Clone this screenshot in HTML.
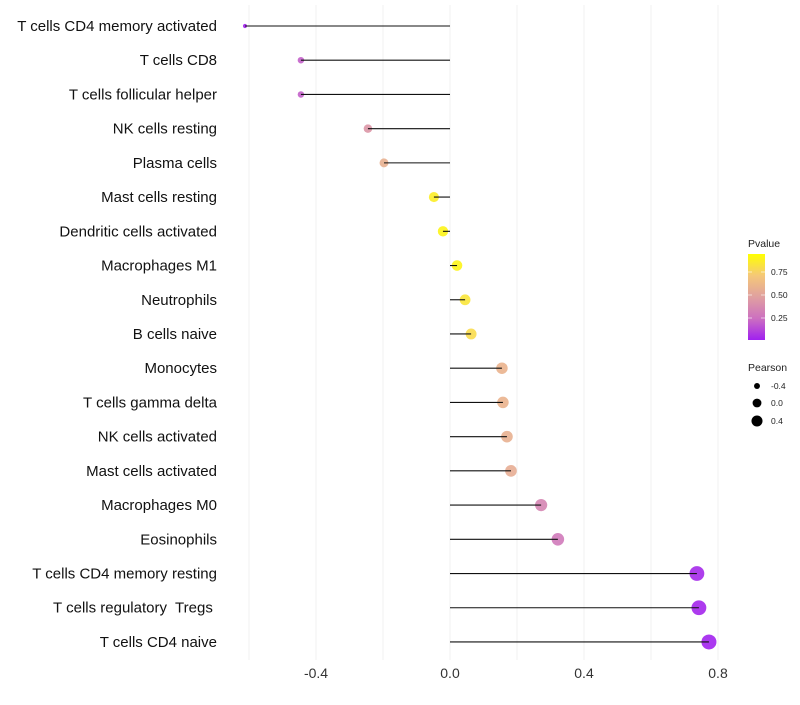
<!DOCTYPE html>
<html><head><meta charset="utf-8"><style>
body{margin:0;background:#fff;font-family:"Liberation Sans",sans-serif}
svg text{font-family:"Liberation Sans",sans-serif;white-space:pre}
</style></head><body>
<svg id="chart" width="800" height="700"></svg>
<script>
const categories=["T cells CD4 memory activated","T cells CD8","T cells follicular helper","NK cells resting","Plasma cells","Mast cells resting","Dendritic cells activated","Macrophages M1","Neutrophils","B cells naive","Monocytes","T cells gamma delta","NK cells activated","Mast cells activated","Macrophages M0","Eosinophils","T cells CD4 memory resting","T cells regulatory  Tregs ","T cells CD4 naive"];
const pearson=[-0.612,-0.445,-0.445,-0.245,-0.197,-0.048,-0.021,0.021,0.045,0.063,0.155,0.158,0.170,0.182,0.272,0.322,0.737,0.743,0.773];
const pvalue=[0.01,0.2,0.2,0.45,0.6,0.92,0.95,0.95,0.88,0.84,0.62,0.62,0.6,0.58,0.36,0.3,0.03,0.02,0.01];
const xTicks=[-0.4,0.0,0.4,0.8];
const xGrid=[-0.6,-0.4,-0.2,0,0.2,0.4,0.6,0.8];
const NS="http://www.w3.org/2000/svg";
const svg=document.getElementById('chart');
const xs=v=>450+v*335;
const ys=i=>26+i*34.22;
const rs=v=>Math.sqrt(Math.max(1,27.25+37.5*v));
function colorFor(p){
  const stops=[[0,[160,32,240]],[0.25,[204,112,192]],[0.5,[224,160,160]],[0.75,[245,200,120]],[1,[255,255,0]]];
  for(let i=1;i<stops.length;i++){if(p<=stops[i][0]){const a=stops[i-1],b=stops[i];const t=(p-a[0])/(b[0]-a[0]);return `rgb(${a[1].map((c,k)=>Math.round(c+(b[1][k]-c)*t)).join(',')})`;}}
  return 'rgb(255,255,0)';
}
function el(tag,attrs,parent){const e=document.createElementNS(NS,tag);for(const k in attrs)e.setAttribute(k,attrs[k]);(parent||svg).appendChild(e);return e;}
xGrid.forEach(v=>{const g=el('line',{x1:xs(v),x2:xs(v),y1:5,y2:660,stroke:'#f0f0f0','stroke-width':1});

});
xTicks.forEach(v=>{const t=el('text',{x:xs(v),y:678,'text-anchor':'middle','font-size':14,fill:'#333'});t.textContent=v.toFixed(1);

});
categories.forEach((c,i)=>{
  const y=ys(i);
  const t=el('text',{x:217,y:y+5,'text-anchor':'end','font-size':15,fill:'#111'});t.textContent=c;
  
  
  const p=el('circle',{cx:xs(pearson[i]),cy:y,r:rs(pearson[i]),fill:colorFor(pvalue[i]),opacity:0.9});
  
  
  const l=el('line',{x1:xs(0),x2:xs(pearson[i]),y1:y,y2:y,stroke:'#111','stroke-width':1.1});
  
  
});
const defs=el('defs',{});
const lg=el('linearGradient',{id:'pg',x1:0,y1:1,x2:0,y2:0},defs);
[[0,'#a020f0'],[0.25,'#cc70c0'],[0.5,'#e0a0a0'],[0.75,'#f5c878'],[1,'#ffff00']].forEach(s=>el('stop',{offset:s[0],'stop-color':s[1]},lg));
const lt=el('text',{x:748,y:247,'font-size':10.5,fill:'#222'});lt.textContent='Pvalue';


const bar=el('rect',{x:748,y:254,width:17,height:86,fill:'url(#pg)'});


[[0.75,272],[0.5,295],[0.25,318]].forEach(d=>{
  el('line',{x1:748,x2:752,y1:d[1],y2:d[1],stroke:'#fff','stroke-width':0.6});
  el('line',{x1:761,x2:765,y1:d[1],y2:d[1],stroke:'#fff','stroke-width':0.6});
  const t=el('text',{x:771,y:d[1]+3,'font-size':8.5,fill:'#222'});t.textContent=d[0].toFixed(2);
  
  
});
const st=el('text',{x:748,y:371,'font-size':10.5,fill:'#222'});st.textContent='Pearson';


[[-0.4,386],[0.0,403],[0.4,421]].forEach(d=>{
  const c=el('circle',{cx:757,cy:d[1],r:rs(d[0])*0.85,fill:'#000'});
  
  
  const t=el('text',{x:771,y:d[1]+3,'font-size':8.5,fill:'#222'});t.textContent=d[0].toFixed(1);
  
  
});
</script>
</body></html>
